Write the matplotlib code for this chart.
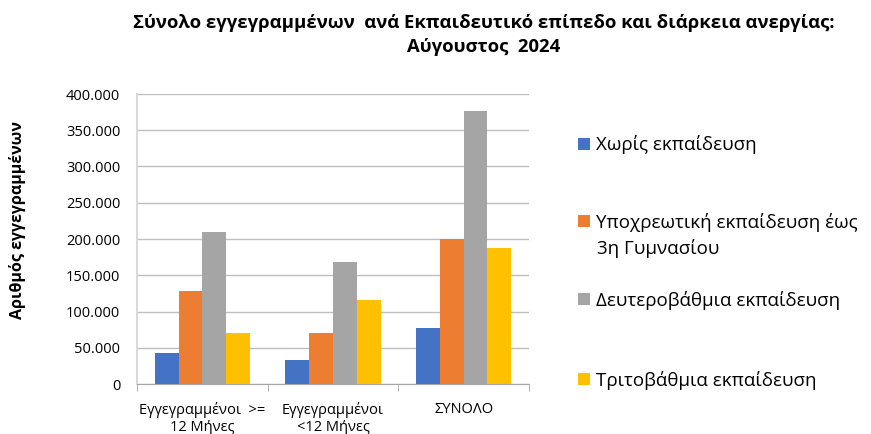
import numpy as np
import matplotlib.pyplot as plt
from matplotlib.ticker import FuncFormatter, FixedLocator

plt.rcParams['font.family'] = ['Open Sans', 'DejaVu Sans']

# Data
categories = ["Εγγεγραμμένοι  >=\n12 Μήνες", "Εγγεγραμμένοι\n<12 Μήνες", "ΣΥΝΟΛΟ"]
series_names = ["Χωρίς εκπαίδευση",
                "Υποχρεωτική εκπαίδευση έως\n3η Γυμνασίου",
                "Δευτεροβάθμια εκπαίδευση",
                "Τριτοβάθμια εκπαίδευση"]
no_education = [43000, 33000, 77000]
compulsory = [128000, 70000, 200000]
secondary = [209000, 168000, 377000]
tertiary = [70000, 116000, 188000]
colors = ["#4472C4", "#ED7D31", "#A5A5A5", "#FFC000"]

values = [no_education, compulsory, secondary, tertiary]

fig = plt.figure(figsize=(8.71, 4.34), dpi=100)
ax = fig.add_axes([137 / 871, 1 - 384 / 434, (529 - 137) / 871, (384 - 94) / 434])

x = np.arange(len(categories))
bar_w = 0.182
bars = []
for i, vals in enumerate(values):
    b = ax.bar(x + (i - 1.5) * bar_w, vals, bar_w, color=colors[i], zorder=3)
    bars.append(b)

ax.set_xlim(-0.5, len(categories) - 0.5)
ax.set_ylim(0, 400000)
ax.yaxis.set_major_locator(FixedLocator(np.arange(0, 400001, 50000)))
ax.yaxis.set_major_formatter(FuncFormatter(lambda v, p: f"{int(v):,}".replace(",", ".")))
ax.grid(axis='y', color='#BFBFBF', linewidth=1, zorder=0)

for s in ['top', 'right']:
    ax.spines[s].set_visible(False)
ax.spines['left'].set_color('#D9D9D9')
ax.spines['left'].set_linewidth(1.5)
ax.spines['bottom'].set_color('#A6A6A6')

ax.tick_params(axis='y', length=0, labelsize=10.5, pad=12, colors='#000000')
ax.set_xticks(x)
ax.set_xticklabels(categories, fontsize=10.5)
ax.tick_params(axis='x', length=0, pad=13)
ax.set_xticks(np.arange(-0.5, len(categories), 1), minor=True)
ax.tick_params(axis='x', which='minor', length=5, color='#A6A6A6')

fig.text(18 / 871, 1 - 220 / 434, "Αριθμός εγγεγραμμένων", rotation=90,
         ha='center', va='center', fontsize=11.5, fontweight='bold')

fig.text(484 / 871, 1 - 35 / 434, "Σύνολο εγγεγραμμένων  ανά Εκπαιδευτικό επίπεδο και διάρκεια ανεργίας:\nΑύγουστος  2024",
         ha='center', va='center', fontsize=13.3, fontweight='bold', linespacing=1.45)

# legend entries, one per series (marker sits on the first line of the label)
legend_y = [145, 222, 300, 380]
for b, name, ly in zip(bars, series_names, legend_y):
    first, *rest = name.split("\n")
    leg = fig.legend([b], [first], loc='center left', bbox_to_anchor=(578 / 871, 1 - ly / 434),
                     frameon=False, fontsize=13.5, handlelength=0.65, handleheight=0.65,
                     handletextpad=0.3, borderaxespad=0, borderpad=0)
    for k, line in enumerate(rest):
        fig.text(597 / 871, 1 - (ly + 27 * (k + 1)) / 434, line, fontsize=13.5,
                 ha='left', va='center')

fig.savefig("out.png", dpi=100)
